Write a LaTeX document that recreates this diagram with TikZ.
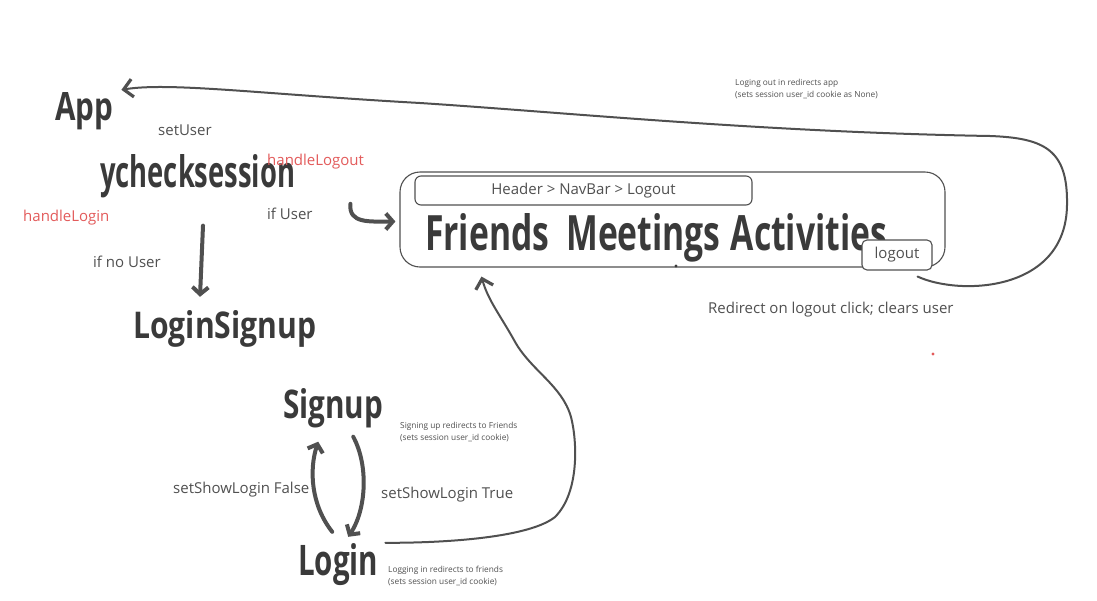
\documentclass[tikz,border=0pt]{standalone}
\usepackage{fontspec}
\setmainfont{Open Sans}
\usetikzlibrary{arrows.meta,calc}
\definecolor{ink}{HTML}{3A3A3A}
\definecolor{soft}{HTML}{505050}
\definecolor{redl}{HTML}{E35B5B}
\newcommand{\hw}[3]{\resizebox{#1pt}{#2pt}{\bfseries #3}}
\tikzset{
  bigtxt/.style={anchor=base west, inner sep=0pt, text=ink},
  lbl/.style={anchor=base west, inner sep=0pt, text=soft, font=\fontsize{15}{18}\selectfont},
  redlbl/.style={lbl, text=redl},
  note/.style={anchor=north west, inner sep=0pt, text=soft, align=left, font=\fontsize{8.3}{11.5}\selectfont},
  box/.style={draw=soft, line width=1.1pt},
  thinarrow/.style={draw=soft, line width=2pt, line cap=round, -{Straight Barb[length=9pt,width=18pt,line width=3.2pt]}},
  fatarrow/.style={draw=soft, line width=4pt, line cap=round, -{Straight Barb[length=7pt,width=16pt,line width=4pt]}},
}
\begin{document}
\begin{tikzpicture}[x=1pt,y=-1pt]
\fill[white] (0,0) rectangle (1097,600);
\useasboundingbox (0,0) rectangle (1097,600);

% big handwritten-like nodes
\node[bigtxt] (app) at (55,120) {\hw{58}{28}{App}};
\node[bigtxt] (check) at (100,187) {\hw{195}{33}{ychecksession}};
\node[bigtxt] (ls) at (133,338) {\hw{183}{28}{LoginSignup}};
\node[bigtxt] (signup) at (283,418) {\hw{100}{30}{Signup}};
\node[bigtxt] (login) at (298,575) {\hw{80}{32}{Login}};

% main component box
\node[box, rounded corners=20pt, minimum width=545pt, minimum height=95pt] (main) at (672.5,219.5) {};
\node[box, rounded corners=6pt, minimum width=337pt, minimum height=29pt, text=soft, font=\fontsize{15}{18}\selectfont] (header) at (583.5,190.5) {Header > NavBar > Logout};
\node[bigtxt] (fma) at (425,250) {\hw{462}{37}{Friends\hspace{0.5em}Meetings\hspace{0.3em}Activities}};
\node[box, rounded corners=5pt, minimum width=70pt, minimum height=30pt, text=soft, font=\fontsize{15}{18}\selectfont, fill=white] (logoutbtn) at (897,255) {logout};
\fill[ink] (676,266) circle (1.6pt);
\fill[redl] (933,354) circle (1.6pt);

% labels
\node[lbl] (setuser) at (158,135) {setUser};
\node[redlbl] (hlogout) at (267,165) {handleLogout};
\node[redlbl] (hlogin) at (23,221) {handleLogin};
\node[lbl] (ifuser) at (267,219) {if User};
\node[lbl] (ifnouser) at (93,267) {if no User};
\node[lbl] (ssfalse) at (173,493) {setShowLogin False};
\node[lbl] (sstrue) at (381,498) {setShowLogin True};
\node[lbl] (redir) at (708,313) {Redirect on logout click; clears user};

% notes
\node[note] (n1) at (735,79) {Loging out in redirects app\\(sets session user\_id cookie as None)};
\node[note] (n2) at (400,422) {Signing up redirects to Friends\\(sets session user\_id cookie)};
\node[note] (n3) at (388,566) {Logging in redirects to friends\\(sets session user\_id cookie)};

% coordinates for connector ends
\coordinate (apptip) at ($(app.north east)+(8,-2)$);
\coordinate (ftip) at ($(main.south west)+(82,9)$);

% logout -> App
\draw[thinarrow] ($(logoutbtn.south east)+(-15,6)$)
  .. controls (960,296) and (1066,292) .. (1067,205)
  .. controls (1068,150) and (1045,138) .. (990,136)
  .. controls (760,132) and (560,112) .. (420,103)
  .. controls (260,94) and (170,82) .. (apptip);

% checksession -> main (if User)
\draw[fatarrow] ($(check.north east)+(55,50)$)
  .. controls ($(check.north east)+(53,70)$) and ($(main.west)+(-30,2)$) .. ($(main.west)+(-4,2)$);

% checksession -> LoginSignup (if no User)
\draw[fatarrow] ($(check.south west)+(103,28)$) -- ($(ls.north west)+(67,-13)$);

% Signup -> Login
\draw[fatarrow] ($(signup.south)+(20,9)$)
  .. controls (369,466) and (366,510) .. ($(login.north)+(10,-6)$);
% Login -> Signup
\draw[fatarrow] ($(login.north)+(-6,-11)$)
  .. controls (311,505) and (309,470) .. ($(signup.south)+(-15,14)$);

% Login -> Friends
\draw[thinarrow] ($(login.north east)+(7,0)$)
  .. controls (450,543) and (530,537) .. (555,517)
  .. controls (580,492) and (577,440) .. (571,417)
  .. controls (562,385) and (530,370) .. (514,340)
  .. controls (500,315) and (488,300) .. (ftip);
\end{tikzpicture}
\end{document}
